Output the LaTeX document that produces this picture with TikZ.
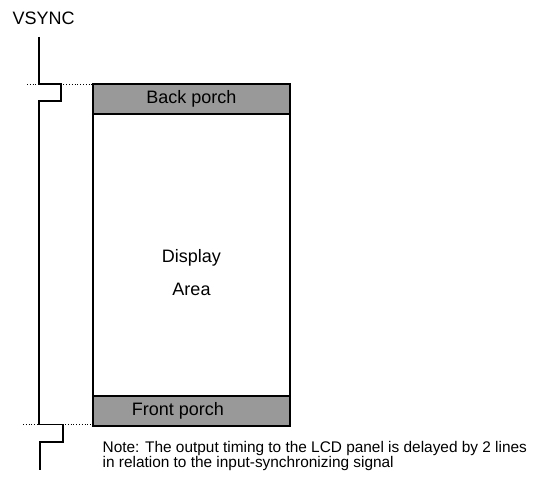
\documentclass[tikz,border=0pt]{standalone}
\usepackage{fontspec}
\setmainfont{Liberation Sans}
\definecolor{porchgray}{HTML}{999999}
\tikzset{
  label text/.style={inner sep=0pt,font=\fontsize{18}{21}\selectfont},
  note text/.style={inner sep=0pt,align=left,font=\fontsize{15.4}{14.5}\selectfont},
  guide/.style={dotted,line width=0.8pt}
}

\begin{document}
\begin{tikzpicture}[x=1pt,y=-1pt,line width=1.3pt]
\useasboundingbox (0,0) rectangle (534,486);
% signal name
\node[label text,anchor=base west] (vsync) at (12,25) {VSYNC};
% VSYNC waveform
\draw (39,37) -- (39,84) -- (61,84) -- (61,101) -- (39,101)
  -- (39,424.5) -- (63,424.5) -- (63,442) -- (40,442) -- (40,470);
% dotted guide lines
\draw[guide] (27,84) -- (139,84);
\draw[guide] (23,424.5) -- (137,424.5);
% back porch
\draw[fill=porchgray] (93,84) rectangle (290,114);
\node[label text] (back) at (191.5,99) {Back porch};
% display area
\draw (93,114) rectangle (290,396);
\node[label text,anchor=base] (disp) at (191.5,262) {Display};
\node[label text,anchor=base] (area) at (191.5,295) {Area};
% front porch
\draw[fill=porchgray] (93,396) rectangle (290,426);
\node[label text] (front) at (178,411) {Front porch};
% note
\node[note text,anchor=base west] (note) at (102,467)
  {Note: The output timing to the LCD panel is delayed by 2 lines\\
   in relation to the input-synchronizing signal};
\end{tikzpicture}
\end{document}
